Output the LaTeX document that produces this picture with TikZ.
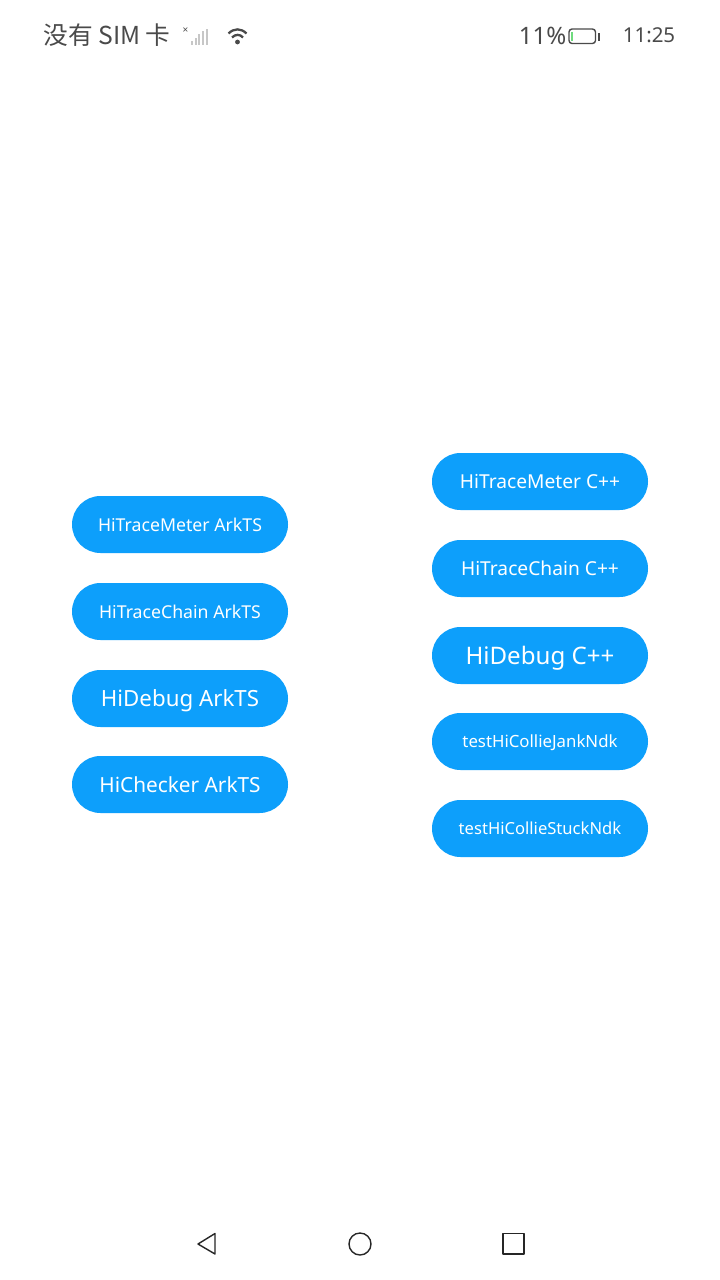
\documentclass[tikz,border=0pt]{standalone}
\usepackage{fontspec}
\setmainfont{Noto Sans}
\newfontfamily\cjk{Noto Sans CJK SC}[BoldFont={Noto Sans CJK SC}]
\definecolor{btn}{HTML}{0D9FFB}
\definecolor{stat}{HTML}{4A4A4A}
\definecolor{battgreen}{HTML}{6FDB7E}
\tikzset{
 btnbox/.style={fill=btn,rounded corners=28.5pt,minimum width=216pt,minimum height=57pt,inner sep=0pt,text=white,anchor=center,text depth=0pt},
 stattext/.style={text=stat,inner sep=0pt,anchor=center},
 navicon/.style={draw=black!85,line width=1.4pt,line join=round},
}
\newcommand{\fs}[1]{\fontsize{#1pt}{#1pt}\selectfont}
\begin{document}
\begin{tikzpicture}[x=1pt,y=-1pt]
\useasboundingbox (0,0) rectangle (720,1280);
\fill[white] (0,0) rectangle (720,1280);
% status bar
\node[stattext] (carrier) at (107,35) {\fs{24.7}\cjk 没有 SIM 卡};
\node[text=stat,inner sep=0pt] (nosig) at (185.5,31) {\fs{10}\bfseries ×};
\foreach \x/\h in {192/4,195.7/7,199.3/10.5,203/13.5,207/16}{\draw[black!22,line width=2.2pt] (\x,44.5)--(\x,44.5-\h);}
% wifi
\draw[stat,line width=2.3pt] (228.5,33.5) .. controls (234,28) and (241,28) .. (246.5,33.5);
\draw[stat,line width=2.3pt] (232,37.5) .. controls (235.5,34) and (240,34) .. (243,37.5);
\fill[stat] (237.5,42) circle (2.4pt);
\node[stattext] (pct) at (542.5,35.5) {\fs{24}11\%};
\draw[stat,line width=1.4pt,rounded corners=3pt] (569,29) rectangle (595.5,43.5);
\fill[stat] (597.7,32.5) rectangle (600,40.5);
\fill[battgreen] (570.8,31.5) rectangle (573.3,41);
\node[stattext] (clock) at (649,35.5) {\fs{20.5}11:25};
% left
\node[btnbox] (a1) at (180,524.5) {\fs{17.7}HiTraceMeter ArkTS};
\node[btnbox] (a2) at (180,611.5) {\fs{17.7}HiTraceChain ArkTS};
\node[btnbox] (a3) at (180,698.5) {\fs{22.3}HiDebug ArkTS};
\node[btnbox] (a4) at (180,784.5) {\fs{20.8}HiChecker ArkTS};
% right
\node[btnbox] (b1) at (540,481.5) {\fs{19.2}HiTraceMeter C++};
\node[btnbox] (b2) at (540,568.5) {\fs{19.2}HiTraceChain C++};
\node[btnbox] (b3) at (540,655.5) {\fs{24.1}HiDebug C++};
\node[btnbox] (b4) at (540,741.5) {\fs{16.8}testHiCollieJankNdk};
\node[btnbox] (b5) at (540,828.5) {\fs{16.6}testHiCollieStuckNdk};
% nav
\draw[navicon] (198,1244) -- (215,1233.5) -- (215,1254) -- cycle;
\draw[navicon] (360,1244) circle (11pt);
\draw[navicon] (503,1233.5) rectangle (524,1254);
\end{tikzpicture}
\end{document}
